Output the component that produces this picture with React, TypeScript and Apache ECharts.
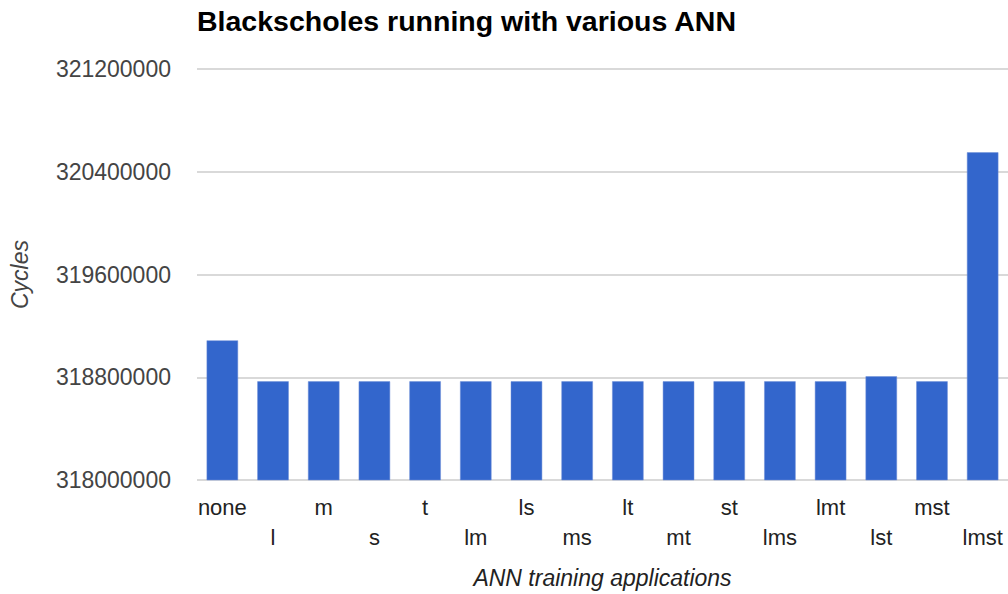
import React, { useEffect, useRef } from "react";
import * as echarts from "echarts";

const categories = ["none", "l", "m", "s", "t", "lm", "ls", "ms", "lt", "mt", "st", "lms", "lmt", "lst", "mst", "lmst"];
const cycles = [
  319087000, 318768000, 318768000, 318768000, 318768000, 318768000, 318768000, 318768000,
  318768000, 318768000, 318768000, 318768000, 318768000, 318807000, 318768000, 320551000,
];
const yMin = 318000000;
const yMax = 321200000;
const yStep = 800000;

const title = "Blackscholes running with various ANN";
const xName = "ANN training applications";
const yName = "Cycles";

export default function App() {
  const ref = useRef<HTMLDivElement>(null);
  useEffect(() => {
    if (!ref.current) return;
    const chart = echarts.init(ref.current, null, { renderer: "svg" });
    const font = "Arial, 'Liberation Sans', sans-serif";
    chart.setOption({
      animation: false,
      backgroundColor: "#ffffff",
      title: {
        text: title,
        left: 192,
        top: 1,
        textStyle: { fontFamily: font, fontSize: 28.5, fontWeight: "bold", color: "#000000" },
      },
      grid: { left: 197, right: 0, top: 69, bottom: 114, containLabel: false },
      xAxis: {
        type: "category",
        data: categories,
        name: xName,
        nameLocation: "middle",
        nameGap: 86,
        nameTextStyle: { fontFamily: font, fontSize: 23, fontStyle: "italic", color: "#222222" },
        axisLine: { show: false },
        axisTick: { show: false },
        axisLabel: {
          interval: 0,
          margin: 12,
          fontFamily: font,
          fontSize: 22,
          color: "#222222",
          lineHeight: 30,
          formatter: (v: string, i: number) => (i % 2 === 1 ? "\n" + v : v),
        },
      },
      yAxis: {
        type: "value",
        min: yMin,
        max: yMax,
        interval: yStep,
        name: yName,
        nameLocation: "middle",
        nameGap: 166,
        nameTextStyle: { fontFamily: font, fontSize: 23, fontStyle: "italic", color: "#444444" },
        axisLine: { show: false },
        axisTick: { show: false },
        axisLabel: { margin: 26, fontFamily: font, fontSize: 23, color: "#444444", formatter: (v: number) => String(v) },
        splitLine: { lineStyle: { color: "#cccccc", width: 1.5 } },
      },
      series: [
        {
          type: "bar",
          data: cycles,
          barWidth: "62%",
          itemStyle: { color: "#3366cc", borderColor: "#6f8fd9", borderWidth: 0.5 },
        },
      ],
    });
    return () => chart.dispose();
  }, []);
  return <div ref={ref} style={{ position: "absolute", left: 0, top: 0, width: 1008, height: 594 }} />;
}
